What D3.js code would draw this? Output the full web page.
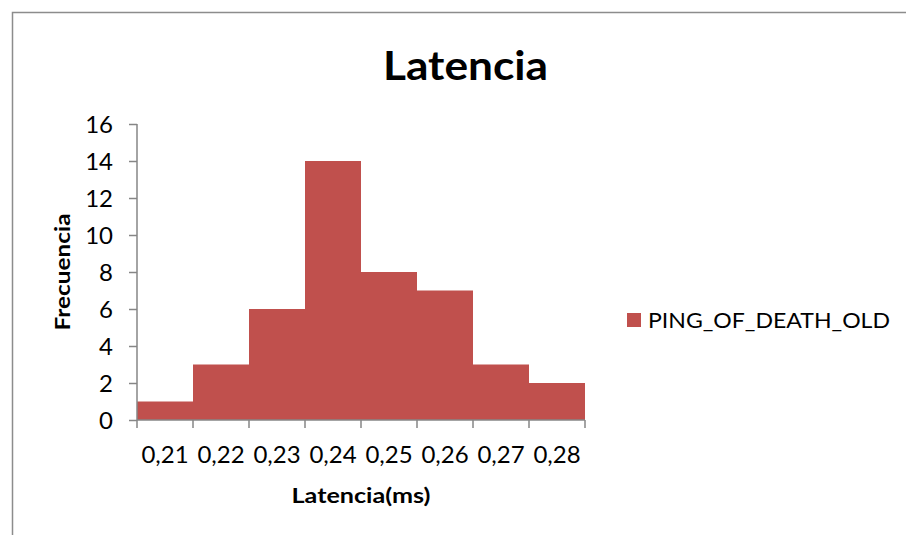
<!DOCTYPE html>
<html><head><meta charset="utf-8">
<script src="https://cdn.jsdelivr.net/npm/d3@7"></script>
<style>body{margin:0;background:#fff}svg{display:block}text{font-family:Lato,"Open Sans",sans-serif;fill:#000}</style>
</head><body>
<svg id="c" width="906" height="535"></svg>
<script>
const categories = ["0,21","0,22","0,23","0,24","0,25","0,26","0,27","0,28"];
const values = [1,3,6,14,8,7,3,2];
const yTicks = [0,2,4,6,8,10,12,14,16];
const seriesName = "PING_OF_DEATH_OLD";
const title = "Latencia";
const xTitle = "Latencia(ms)";
const yTitle = "Frecuencia";

const svg = d3.select("#c");
const color = "#C0504D";
const axisColor = "#868686";

svg.append("rect").attr("x",12.5).attr("y",12.5).attr("width",1000).attr("height",1000)
  .attr("fill","none").attr("stroke","#8c8c8c").attr("stroke-width",1.5);

const x = d3.scaleBand().domain(categories).range([137,585]).paddingInner(0).paddingOuter(0);
const y = d3.scaleLinear().domain([0,16]).range([420,124]);

svg.append("g").selectAll("rect").data(values).join("rect")
  .attr("x",(d,i)=>x(categories[i]))
  .attr("y",d=>y(d))
  .attr("width",x.bandwidth())
  .attr("height",d=>y(0)-y(d))
  .attr("fill",color);

// y axis
const ya = svg.append("g").attr("transform","translate(137,0)")
  .call(d3.axisLeft(y).tickValues(yTicks).tickSize(8).tickPadding(16).tickFormat(d3.format("d")));
ya.select(".domain").attr("stroke",axisColor).attr("stroke-width",1.5).attr("d","M0,124V420");
ya.selectAll(".tick line").attr("stroke",axisColor).attr("stroke-width",1.5);
ya.selectAll(".tick text").attr("font-size",24).attr("font-family","Lato,sans-serif").attr("fill","#000").attr("dy","0.36em");

// x axis
const xa = svg.append("g").attr("transform","translate(0,420)")
  .call(d3.axisBottom(x).tickSize(0).tickPadding(26));
xa.select(".domain").attr("stroke",axisColor).attr("stroke-width",1.5).attr("d","M137,0H585");
xa.selectAll(".tick text").attr("font-size",24).attr("font-family","Lato,sans-serif").attr("fill","#000");
const edges = categories.map(c=>x(c)).concat([585]);
xa.selectAll(".edge").data(edges).join("line").attr("class","edge")
  .attr("x1",d=>d).attr("x2",d=>d).attr("y1",0).attr("y2",8)
  .attr("stroke",axisColor).attr("stroke-width",1.5);

svg.append("text").attr("x",465.5).attr("y",80).attr("text-anchor","middle")
  .attr("font-size",40).attr("font-weight","bold").attr("textLength",165).attr("lengthAdjust","spacingAndGlyphs").text(title);
svg.append("text").attr("x",361).attr("y",503).attr("text-anchor","middle")
  .attr("font-size",20).attr("font-weight","bold").attr("textLength",139).attr("lengthAdjust","spacingAndGlyphs").text(xTitle);
svg.append("text").attr("transform","translate(70,272) rotate(-90)").attr("text-anchor","middle")
  .attr("font-size",20).attr("font-weight","bold").attr("textLength",117).attr("lengthAdjust","spacingAndGlyphs").text(yTitle);

svg.append("rect").attr("x",627).attr("y",313).attr("width",14).attr("height",14).attr("fill",color);
svg.append("text").attr("x",648).attr("y",328).attr("font-size",22).attr("textLength",242).attr("lengthAdjust","spacingAndGlyphs").text(seriesName);
</script>
</body></html>
